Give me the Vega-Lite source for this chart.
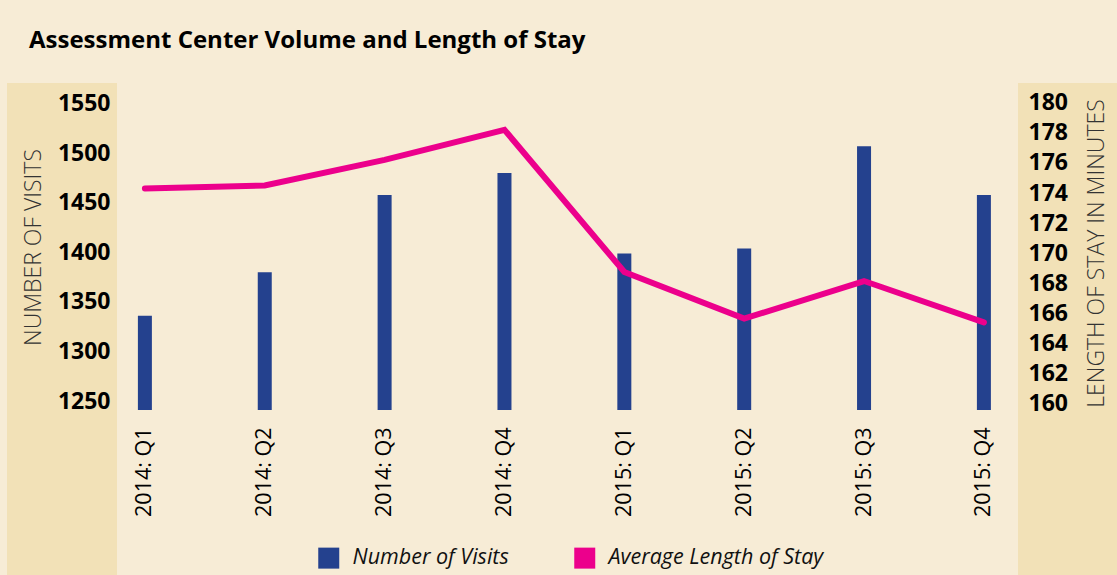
{
  "$schema": "https://vega.github.io/schema/vega-lite/v6.json",
  "background": "#f7ecd6",
  "padding": {"left": 7, "top": 29, "right": 0, "bottom": 0},
  "title": {
    "text": "Assessment Center Volume and Length of Stay",
    "anchor": "start",
    "dx": 22,
    "offset": 11,
    "baseline": "alphabetic",
    "font": "Open Sans",
    "fontSize": 24,
    "fontWeight": "bold",
    "color": "#000000"
  },
  "datasets": {
    "q": [
      {"quarter": "2014: Q1", "visits": 1336, "los": 174.3},
      {"quarter": "2014: Q2", "visits": 1380, "los": 174.5},
      {"quarter": "2014: Q3", "visits": 1458, "los": 176.2},
      {"quarter": "2014: Q4", "visits": 1480, "los": 178.2},
      {"quarter": "2015: Q1", "visits": 1399, "los": 168.75},
      {"quarter": "2015: Q2", "visits": 1404, "los": 165.65},
      {"quarter": "2015: Q3", "visits": 1507, "los": 168.15},
      {"quarter": "2015: Q4", "visits": 1458, "los": 165.4}
    ]
  },
  "spacing": 0,
  "bounds": "flush",
  "hconcat": [
    {
      "width": 110,
      "height": 493,
      "view": {"fill": "#f2e1b7", "stroke": null},
      "data": {"name": "q"},
      "mark": {"type": "point", "opacity": 0},
      "encoding": {
        "y": {
          "field": "visits",
          "type": "quantitative",
          "scale": {"domain": [1073.5, 1570.9], "nice": false, "zero": false},
          "axis": {
            "orient": "left",
            "offset": -110,
            "values": [1250, 1300, 1350, 1400, 1450, 1500, 1550],
            "format": "d",
            "grid": false,
            "domain": false,
            "ticks": false,
            "labelPadding": 7,
            "labelFont": "Open Sans",
            "labelFontWeight": "bold",
            "labelFontSize": 23,
            "labelColor": "#000000",
            "title": "NUMBER OF VISITS",
            "titleFont": "Open Sans",
            "titleFontWeight": 300,
            "titleFontSize": 23,
            "titleColor": "#333333",
            "titlePadding": 12,
            "titleY": 164
          }
        }
      }
    },
    {
      "width": 901,
      "height": 327,
      "data": {"name": "q"},
      "layer": [
        {
          "mark": {"type": "bar", "width": 14},
          "encoding": {
            "x": {
              "field": "quarter",
              "type": "ordinal",
              "sort": null,
              "scale": {"type": "point", "padding": 0.2586, "align": 0.45},
              "axis": {
                "title": null,
                "labelAngle": -90,
                "labelAlign": "right",
                "labelBaseline": "middle",
                "labelPadding": 17,
                "ticks": false,
                "domain": false,
                "labelFont": "Open Sans",
                "labelFontSize": 21.5,
                "labelFontWeight": 500,
                "labelColor": "#000000"
              }
            },
            "y": {
              "field": "visits",
              "type": "quantitative",
              "scale": {"domain": [1241, 1570.9], "nice": false, "zero": false},
              "axis": null
            },
            "y2": {"datum": 1241},
            "color": {
              "datum": "Number of Visits",
              "type": "nominal",
              "scale": {
                "domain": ["Number of Visits", "Average Length of Stay"],
                "range": ["#24418e", "#ec008c"]
              },
              "legend": {
                "orient": "none",
                "legendX": 311,
                "legendY": 464,
                "direction": "horizontal",
                "title": null,
                "symbolType": "square",
                "symbolSize": 441,
                "symbolStrokeWidth": 0,
                "symbolOpacity": 1,
                "labelFont": "Open Sans",
                "labelFontStyle": "italic",
                "labelFontSize": 21.5,
                "labelColor": "#111111",
                "labelOffset": 13,
                "labelLimit": 400,
                "columnPadding": 65,
                "padding": 0
              }
            }
          }
        },
        {
          "mark": {"type": "line", "strokeWidth": 6, "strokeCap": "round", "strokeJoin": "miter"},
          "encoding": {
            "x": {"field": "quarter", "type": "ordinal", "sort": null},
            "y": {
              "field": "los",
              "type": "quantitative",
              "scale": {"domain": [159.58, 181.31], "nice": false, "zero": false},
              "axis": null
            },
            "color": {"datum": "Average Length of Stay", "type": "nominal"}
          }
        }
      ],
      "resolve": {"scale": {"y": "independent"}}
    },
    {
      "width": 99,
      "height": 493,
      "view": {"fill": "#f2e1b7", "stroke": null},
      "data": {"name": "q"},
      "mark": {"type": "point", "opacity": 0},
      "encoding": {
        "y": {
          "field": "los",
          "type": "quantitative",
          "scale": {"domain": [148.55, 181.31], "nice": false, "zero": false},
          "axis": {
            "orient": "right",
            "offset": -99,
            "values": [160, 162, 164, 166, 168, 170, 172, 174, 176, 178, 180],
            "grid": false,
            "domain": false,
            "ticks": false,
            "labelPadding": 10,
            "labelFont": "Open Sans",
            "labelFontWeight": "bold",
            "labelFontSize": 23,
            "labelColor": "#000000",
            "title": "LENGTH OF STAY IN MINUTES",
            "titleFont": "Open Sans",
            "titleFontWeight": 300,
            "titleFontSize": 23,
            "titleColor": "#333333",
            "titleAngle": 270,
            "titleBaseline": "top",
            "titlePadding": 18,
            "titleY": 170
          }
        }
      }
    }
  ],
  "config": {
    "view": {"stroke": null},
    "font": "Open Sans"
  }
}
